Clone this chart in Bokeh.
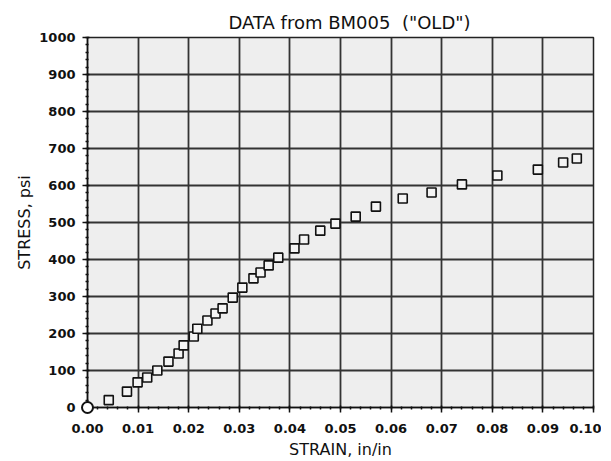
from bokeh.plotting import figure
from bokeh.models import FixedTicker, PrintfTickFormatter, Range1d
from bokeh.embed import file_html
from bokeh.resources import INLINE

title_text = 'DATA from BM005\u00a0\u00a0("OLD")'
x_label = "STRAIN, in/in"
y_label = "STRESS, psi"

origin_strain = [0.0]
origin_stress = [0.0]

strain = [0.0042, 0.0078, 0.0099, 0.0118, 0.0138, 0.0160, 0.0180, 0.0190,
          0.0210, 0.0217, 0.0237, 0.0253, 0.0267, 0.0287, 0.0306, 0.0328,
          0.0342, 0.0358, 0.0377, 0.0409, 0.0428, 0.0460, 0.0490, 0.0530,
          0.0570, 0.0623, 0.0680, 0.0740, 0.0810, 0.0890, 0.0940, 0.0967]
stress = [20, 43, 68, 81, 100, 124, 146, 168,
          192, 213, 235, 254, 268, 297, 324, 349,
          365, 384, 405, 430, 454, 478, 497, 516,
          543, 565, 581, 603, 627, 643, 662, 673]

x_ticks = [0.00, 0.01, 0.02, 0.03, 0.04, 0.05, 0.06, 0.07, 0.08, 0.09, 0.10]
y_ticks = [0, 100, 200, 300, 400, 500, 600, 700, 800, 900, 1000]

FONT = "DejaVu Sans"

p = figure(frame_width=506, frame_height=370, output_backend="svg",
           toolbar_location=None,
           x_range=Range1d(0, 0.10), y_range=Range1d(0, 1000),
           min_border_left=87, min_border_right=8, min_border_top=37,
           min_border_bottom=40, background_fill_color="#eeeeee",
           border_fill_color="white")

p.title.text = title_text
p.title.align = "left"
p.title.offset = 141
p.title.text_font = FONT
p.title.text_font_size = "18px"
p.title.text_font_style = "normal"
p.title.text_color = "#111111"

p.outline_line_color = "#222222"
p.outline_line_width = 1.5

for ax in (p.xaxis[0], p.yaxis[0]):
    ax.axis_line_color = "#111111"
    ax.axis_line_width = 1.5
    ax.major_tick_line_color = "#111111"
    ax.major_tick_line_width = 1.5
    ax.major_tick_out = 5
    ax.major_tick_in = 2
    ax.minor_tick_line_color = "#111111"
    ax.minor_tick_line_width = 1.5
    ax.minor_tick_out = 2
    ax.minor_tick_in = 1
    ax.major_label_text_font = FONT
    ax.major_label_text_font_size = "13px"
    ax.major_label_text_font_style = "bold"
    ax.major_label_text_color = "#111111"
    ax.axis_label_text_font = FONT
    ax.axis_label_text_font_size = "16px"
    ax.axis_label_text_font_style = "normal"
    ax.axis_label_text_color = "#111111"

p.xaxis.ticker = FixedTicker(ticks=x_ticks,
                             minor_ticks=[i * 0.002 for i in range(51)])
p.xaxis.formatter = PrintfTickFormatter(format="%.2f")
p.xaxis.axis_label = x_label
p.xaxis.major_label_standoff = 11
p.xaxis.axis_label_standoff = 4

p.yaxis.ticker = FixedTicker(ticks=y_ticks,
                             minor_ticks=[i * 20 for i in range(51)])
p.yaxis.axis_label = y_label
p.yaxis.major_label_standoff = 7
p.yaxis.axis_label_standoff = 2

p.xgrid.ticker = FixedTicker(ticks=x_ticks)
p.ygrid.ticker = FixedTicker(ticks=y_ticks)
for g in (p.xgrid[0], p.ygrid[0]):
    g.grid_line_color = "#333333"
    g.grid_line_width = 1.8
    g.grid_line_alpha = 1.0

p.scatter(strain, stress, marker="square", size=9, fill_color="#f4f4f4",
          line_color="#111111", line_width=1.6)
p.scatter(origin_strain, origin_stress, marker="circle", size=11,
          fill_color="white", line_color="#111111", line_width=2,
          level="overlay")

open("out.html", "w").write(file_html(p, INLINE))
